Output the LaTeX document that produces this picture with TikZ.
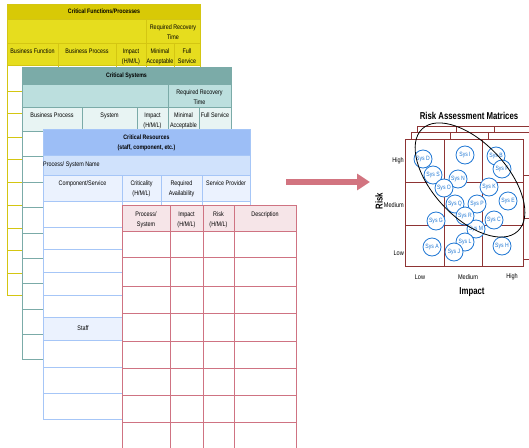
\documentclass[tikz,border=0pt]{standalone}
\usepackage{fontspec}
\setmainfont{Liberation Sans}[FakeStretch=0.82]
\newfontfamily\ttlfont{Liberation Sans}[FakeStretch=0.78]
\usetikzlibrary{arrows.meta}
\definecolor{YlwDark}{HTML}{D8C906}
\definecolor{YlwLight}{HTML}{E6DD1E}
\definecolor{YlwLine}{HTML}{D4C612}
\definecolor{TealDark}{HTML}{7BABA8}
\definecolor{TealMid}{HTML}{BCDFDE}
\definecolor{TealPale}{HTML}{E8F4F3}
\definecolor{BlueDark}{HTML}{9CBEF6}
\definecolor{BlueMid}{HTML}{D0E2FC}
\definecolor{BluePale}{HTML}{EBF2FE}
\definecolor{BlueLine}{HTML}{A6C6F7}
\definecolor{PinkPale}{HTML}{F6E5E8}
\definecolor{PinkLine}{HTML}{CF7382}
\definecolor{ArrowRed}{HTML}{D27480}
\definecolor{MatRed}{HTML}{8E3434}
\definecolor{SysBlue}{HTML}{1F77D4}

\begin{document}
\begin{tikzpicture}[x=1pt,y=-1pt,
  tx/.style={font=\fontsize{6.6}{9.5}\selectfont,align=center,inner sep=0pt},
  hd/.style={tx,font=\fontsize{6.4}{9.5}\selectfont\bfseries},
  sy/.style={circle,draw=SysBlue,fill=white,line width=0.8pt,minimum size=18pt,inner sep=0pt,
    text=SysBlue,font=\fontsize{6.2}{6.5}\selectfont},
  ax/.style={font=\fontsize{6.8}{7}\selectfont,inner sep=0pt},
  ttl/.style={font=\ttlfont\fontsize{10}{11}\selectfont\bfseries,inner sep=0pt},
  mat/.style={draw=MatRed,line width=0.9pt}]
\useasboundingbox (0,0) rectangle (529,447);
\clip (0,0) rectangle (529,447);

% ===== yellow: critical functions =====
\fill[YlwDark] (7,4) rectangle (200,19);
\fill[YlwLight] (7,19) rectangle (200,65);
\fill[white] (7,65) rectangle (200,295);
\begin{scope}[YlwLine,line width=0.8pt]
\foreach \y in {19,43,65,91,113,137,159,182,205,228,250,273} \draw (7,\y) -- (200,\y);
\foreach \x in {58,116,146,174} \draw (\x,43) -- (\x,295);
\draw (146,19) -- (146,43);
\draw (7,4) rectangle (200,295);
\end{scope}
\node[hd] (yT) at (104,11.5) {Critical Functions/Processes};
\node[tx] (yRR) at (173,32) {Required Recovery\\Time};
\node[tx,anchor=north] (yBF) at (32.5,49) {Business Function};
\node[tx,anchor=north] (yBP) at (87,49) {Business Process};
\node[tx,anchor=north] (yIm) at (131,49) {Impact\\(H/M/L)};
\node[tx,anchor=north] (yMA) at (160,49) {Minimal\\Acceptable};
\node[tx,anchor=north] (yFS) at (187,49) {Full\\Service};

% ===== teal: critical systems =====
\fill[TealDark] (22,67) rectangle (231,84);
\fill[TealMid] (22,84) rectangle (231,107);
\fill[TealPale] (22,107) rectangle (231,131);
\fill[white] (22,131) rectangle (231,359);
\begin{scope}[TealDark,line width=0.8pt]
\foreach \y in {84,107,131,156,182,207,233,258,283,309,334} \draw (22,\y) -- (231,\y);
\foreach \x in {82,137,168,199} \draw (\x,107) -- (\x,359);
\draw (168,84) -- (168,107);
\draw (22,67) rectangle (231,359);
\end{scope}
\node[hd] (sT) at (126.5,75.5) {Critical Systems};
\node[tx] (sRR) at (199.5,97) {Required Recovery\\Time};
\node[tx,anchor=north] (sBP) at (52,113) {Business Process};
\node[tx,anchor=north] (sSy) at (109.5,113) {System};
\node[tx,anchor=north] (sIm) at (152.5,113) {Impact\\(H/M/L)};
\node[tx,anchor=north] (sMA) at (183.5,113) {Minimal\\Acceptable};
\node[tx,anchor=north] (sFS) at (215,113) {Full Service};

% ===== blue: critical resources =====
\fill[BlueDark] (43,129) rectangle (250,155);
\fill[BlueMid] (43,155) rectangle (250,175);
\fill[BluePale] (43,175) rectangle (250,201);
\fill[white] (43,201) rectangle (250,419);
\fill[BluePale] (43,317) rectangle (122,340);
\begin{scope}[BlueLine,line width=0.8pt]
\foreach \y in {155,175,201,227,249,272,295,317,340,367,393} \draw (43,\y) -- (250,\y);
\foreach \x in {122,161,202} \draw (\x,175) -- (\x,419);
\draw (43,129) rectangle (250,419);
\end{scope}
\node[hd] (rT) at (146.5,143) {Critical Resources\\(staff, component, etc.)};
\node[tx,anchor=west] (rPN) at (43,165) {Process/ System Name};
\node[tx,anchor=north] (rCS) at (82.5,181) {Component/Service};
\node[tx,anchor=north] (rCr) at (141.5,181) {Criticality\\(H/M/L)};
\node[tx,anchor=north] (rRA) at (181.5,181) {Required\\Availability};
\node[tx,anchor=north] (rSP) at (226,181) {Service Provider};
\node[tx] (rSt) at (83,328) {Staff};

% ===== pink: risk table =====
\fill[PinkPale] (122,205) rectangle (296,231);
\fill[white] (122,231) rectangle (296,450);
\begin{scope}[PinkLine,line width=0.9pt]
\foreach \y in {231,257,286,313,341,368,395,422} \draw (122,\y) -- (296,\y);
\foreach \x in {170,203,234} \draw (\x,205) -- (\x,450);
\draw (122,450) -- (122,205) -- (296,205) -- (296,450);
\end{scope}
\node[tx,anchor=north] (pPS) at (146,212) {Process/\\System};
\node[tx,anchor=north] (pIm) at (186.5,212) {Impact\\(H/M/L)};
\node[tx,anchor=north] (pRk) at (218.5,212) {Risk\\(H/M/L)};
\node[tx,anchor=north] (pDe) at (265,212) {Description};

% ===== arrow =====
\coordinate (arS) at (286,182);
\coordinate (arE) at (370,182);
\draw[ArrowRed,line width=6pt,-{Triangle[length=13pt,width=16pt]}] (arS) -- (arE);

% ===== risk assessment matrices (stacked) =====
\foreach \dx/\dy in {12/-13,6/-6.5,0/0}{
  \begin{scope}[shift={(\dx,\dy)}]
  \fill[white] (405,139) rectangle (523,266);
  \draw[mat] (405,139) rectangle (523,266);
  \draw[mat] (444,139) -- (444,266) (482,139) -- (482,266)
    (405,182) -- (523,182) (405,225) -- (523,225);
  \end{scope}}
\node[ttl] (mT) at (469,116) {Risk Assessment Matrices};
\node[ax,anchor=east] (mHi) at (404,161) {High};
\node[ax,anchor=east] (mMd) at (404,205) {Medium};
\node[ax,anchor=east] (mLo) at (404,253) {Low};
\node[ax] (mLoX) at (420,277) {Low};
\node[ax] (mMdX) at (468,277) {Medium};
\node[ax] (mHiX) at (512,277) {High};
\node[ttl] (mImp) at (472,292) {Impact};
\node[ttl,rotate=90] (mRisk) at (379,201) {Risk};

% systems
\foreach \n/\x/\y in {D/423/159,S/433/175,I/465/155,B/496/156,F/502/169,N/458/179,
  O/444/188,K/489/187,Q/455/204,P/477/204,E/508/201,G/436/221,C/494/220,M/476/229,
  R/465/216,L/465/242,J/454/252,A/432/247,H/502/246}
  \node[sy] (sys\n) at (\x,\y) {Sys \n};

% group ellipse
\draw[black,line width=0.8pt,rotate around={-47:(470,180)}] (470,180) ellipse [x radius=70pt,y radius=37pt];
\end{tikzpicture}
\end{document}
